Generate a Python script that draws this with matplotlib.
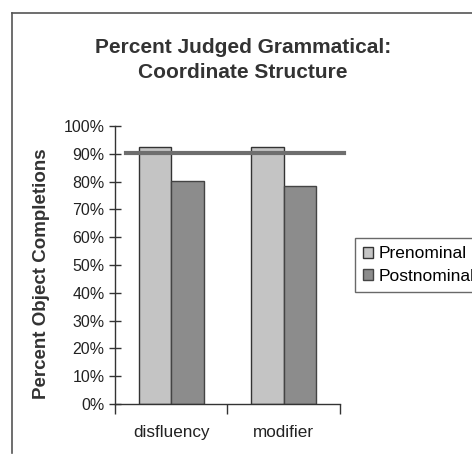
import matplotlib.pyplot as plt
from matplotlib.lines import Line2D

categories = ['disfluency', 'modifier']
prenominal = [0.924, 0.923]
postnominal = [0.802, 0.785]
criterion = 0.903
series_names = ['Prenominal', 'Postnominal']

plt.rcParams['font.family'] = ['Liberation Sans', 'DejaVu Sans']

fig = plt.figure(figsize=(4.72, 4.55), dpi=100)
ax = fig.add_axes([0.2436, 0.112, 0.4767, 0.611])

x = list(range(len(categories)))
barWidth = 0.29
ax.bar([i - barWidth / 2 for i in x], prenominal, width=barWidth,
       color='#c4c4c4', edgecolor='#333333', linewidth=1.0, label=series_names[0])
ax.bar([i + barWidth / 2 for i in x], postnominal, width=barWidth,
       color='#8c8c8c', edgecolor='#444444', linewidth=1.0, label=series_names[1])

# reference line across the plot
ax.plot([-0.4, 1.54], [criterion, criterion], color='#6e6e6e', linewidth=3,
        clip_on=False, zorder=3)

ax.set_xlim(-0.5, 1.5)
ax.set_ylim(0, 1)
ax.set_yticks([i / 10 for i in range(11)])
ax.set_yticklabels(['%d%%' % (i * 10) for i in range(11)], fontsize=11.5, color='#222222')
ax.tick_params(axis='y', direction='inout', length=9, width=1, pad=3, color='#333333')
ax.set_xticks([-0.5, 0.5, 1.5])
ax.set_xticklabels([])
ax.tick_params(axis='x', direction='out', length=7, width=1, color='#333333')
ax.set_xticks(x, minor=True)
ax.set_xticklabels(categories, minor=True, fontsize=12.3, color='#222222')
ax.tick_params(axis='x', which='minor', length=0, pad=15)

for side in ['top', 'right']:
    ax.spines[side].set_visible(False)
for side in ['left', 'bottom']:
    ax.spines[side].set_color('#333333')
    ax.spines[side].set_linewidth(1.0)

ax.set_ylabel('Percent Object Completions', fontsize=13.5, fontweight='bold',
              color='#333333')
ax.yaxis.set_label_coords(-0.29, 0.47)

fig.text(0.515, 0.868, 'Percent Judged Grammatical:\nCoordinate Structure',
         ha='center', va='center', fontsize=15, fontweight='bold', color='#333333',
         linespacing=1.35)

leg = fig.legend(loc='upper left', bbox_to_anchor=(0.752, 0.476), fontsize=12.5,
                 frameon=True, fancybox=False, edgecolor='#444444',
                 handlelength=0.6, handleheight=0.6, handletextpad=0.3,
                 borderpad=0.45, labelspacing=0.45, borderaxespad=0)
leg.get_frame().set_linewidth(1.0)

# outer chart border (left and top edges)
fig.add_artist(Line2D([12 / 472, 12 / 472], [1 - 13 / 455, 1 - 453 / 455],
                      transform=fig.transFigure, color='#555555', linewidth=1.2))
fig.add_artist(Line2D([12 / 472, 1.0], [1 - 13 / 455, 1 - 13 / 455],
                      transform=fig.transFigure, color='#555555', linewidth=1.2))

fig.savefig('out.png', dpi=100)
